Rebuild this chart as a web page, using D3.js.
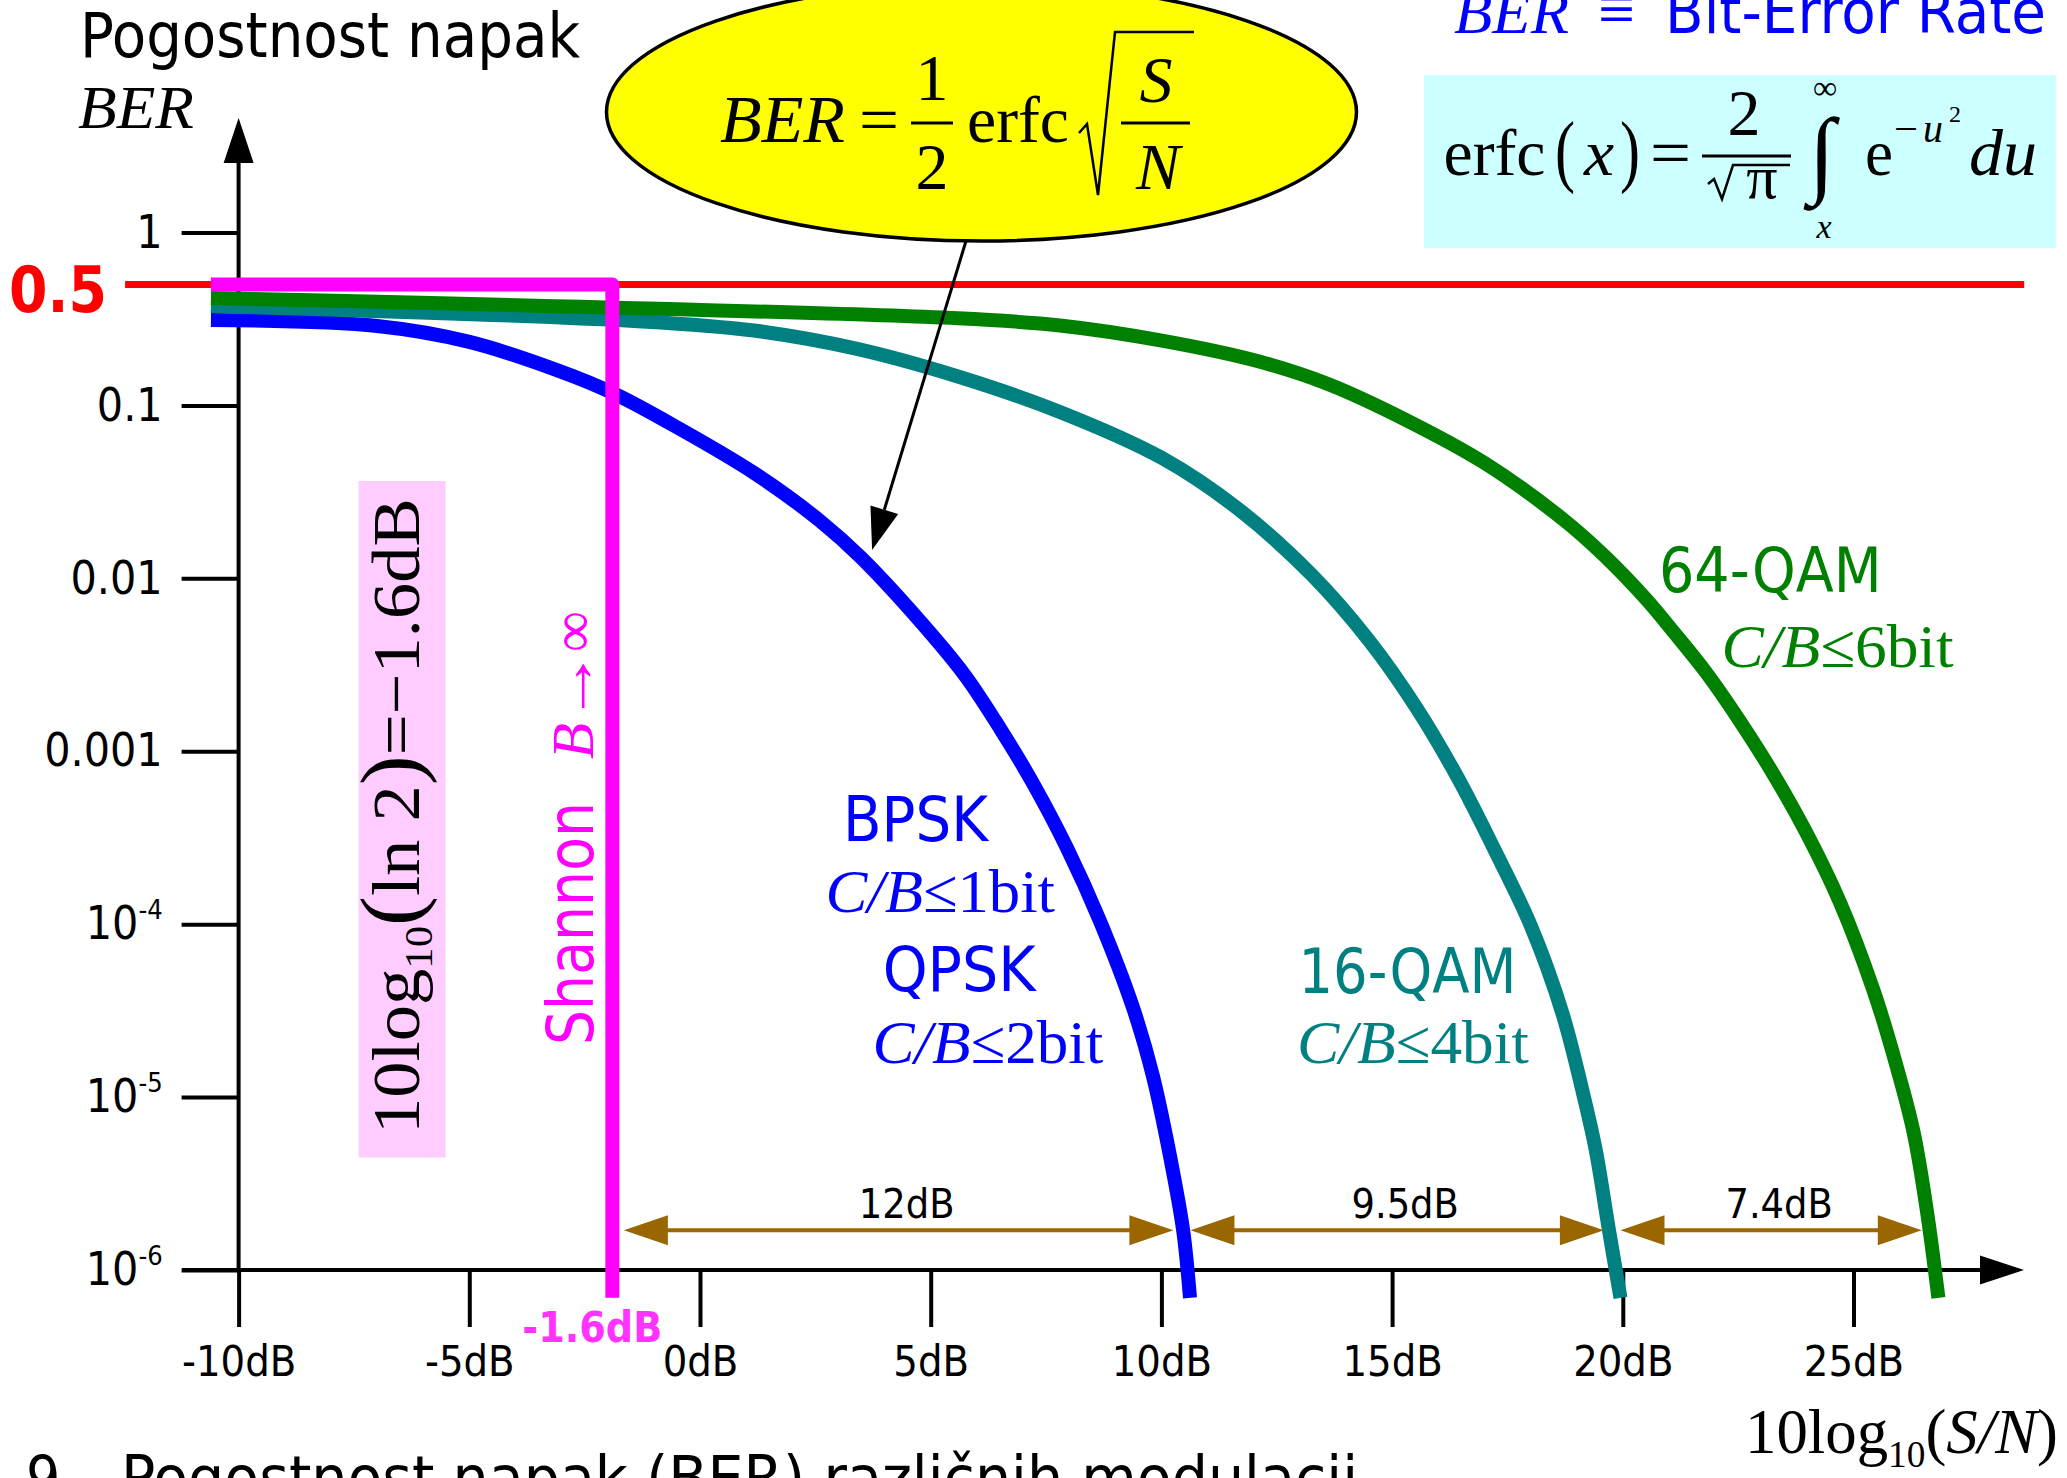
<!DOCTYPE html>
<html>
<head>
<meta charset="utf-8">
<script src="https://cdn.jsdelivr.net/npm/d3@7"></script>
<style>
  html, body { margin: 0; padding: 0; background: #fff; overflow: hidden; }
  svg { display: block; }
  .sans { font-family: "DejaVu Sans Condensed", "DejaVu Sans", sans-serif; font-stretch: condensed; }
  .serif { font-family: "Liberation Serif", "Times New Roman", serif; }
</style>
</head>
<body>
<div id="chart"></div>
<script>
//data
const xTickValues = [-10, -5, 0, 5, 10, 15, 20, 25];
const xTickLabels = ["-10dB", "-5dB", "0dB", "5dB", "10dB", "15dB", "20dB", "25dB"];
const yTickValues = [1, 0.1, 0.01, 0.001, 1e-4, 1e-5, 1e-6];
const yTickLabels = ["1", "0.1", "0.01", "0.001", "10^-4", "10^-5", "10^-6"];

// BPSK / QPSK
const bpskDb = [-10.6, -7.0, -5.0, -3.1, -1.86, -0.49, 1.17, 2.6, 3.5, 5.06, 5.78, 6.5, 7.22, 7.95, 8.67, 9.39, 9.82, 10.26, 10.48, 10.62];
const bpskBer = [0.312, 0.288, 0.233, 0.16, 0.117, 0.0745, 0.0407, 0.0215, 0.0131, 0.0046, 0.00266, 0.00136, 6.5e-4, 2.77e-4, 1.04e-4, 3.26e-5, 1.31e-5, 3.6e-6, 1.63e-6, 6.9e-7];
// 16-QAM
const qam16Db = [-10.6, -1.26, 1.17, 3.38, 5.59, 7.8, 10.01, 11.68, 13.27, 14.52, 15.53, 16.44, 17.23, 18.02, 18.7, 19.15, 19.41, 19.7, 19.95];
const qam16Ber = [0.376, 0.306, 0.271, 0.213, 0.147, 0.0917, 0.0497, 0.025, 0.0104, 0.0043, 0.00178, 6.9e-4, 2.66e-4, 9.6e-5, 3.0e-5, 1.02e-5, 5.0e-6, 1.7e-6, 6.9e-7];
// 64-QAM
const qam64Db = [-10.6, 5.59, 7.8, 10.01, 12.1, 13.61, 15.3, 17.0, 18.7, 19.6, 20.52, 21.1, 21.82, 22.54, 23.26, 23.99, 24.71, 25.43, 25.86, 26.3, 26.59, 26.84];
const qam64Ber = [0.418, 0.319, 0.29, 0.237, 0.18, 0.133, 0.0824, 0.0465, 0.022, 0.0135, 0.0075, 0.0049, 0.00282, 0.00149, 7.4e-4, 3.33e-4, 1.33e-4, 4.17e-5, 1.77e-5, 6.3e-6, 2.2e-6, 6.9e-7];

// reference lines
const halfBer = 0.5;
const halfLineDb = [-12.46, 28.7];
const shannonDb = -1.9;
const shannonStartDb = -10.6;
const shannonEndBer = 6.9e-7;
const shannonLabel = "-1.6dB";

// dB gaps between the curves
const gapFrom = [-1.65, 10.63, 19.95];
const gapTo = [10.26, 19.59, 26.48];
const gapLabels = ["12dB", "9.5dB", "7.4dB"];
const gapBer = 1.7e-6;

// callout points at the BPSK curve
const pointerDb = 3.73;
const pointerBer = 0.0146;

//size
const width = 2067, height = 1478;
const svg = d3.select("#chart").append("svg").attr("width", width).attr("height", height);

//scales
const x = d3.scaleLinear().domain([-10, 25]).range([238.6, 1853.5]);
const y = d3.scaleLog().domain([1e-6, 1]).range([1270, 232.5]);

const sansFont = '"DejaVu Sans Condensed", "DejaVu Sans", sans-serif';

//helper for fitted text
function label(g, cls, tx, ty, str, size, len, fill, anchor) {
  const t = g.append("text").attr("class", cls).attr("x", tx).attr("y", ty)
    .attr("font-size", size).attr("fill", fill || "#000").text(str);
  if (len) t.attr("textLength", len).attr("lengthAdjust", "spacingAndGlyphs");
  if (anchor) t.attr("text-anchor", anchor);
  return t;
}
function vlabel(tx, ty, str, size, len, fill, cls) {
  const t = svg.append("text").attr("class", cls)
    .attr("transform", `translate(${tx},${ty}) rotate(-90)`)
    .attr("font-size", size).attr("fill", fill).text(str);
  if (len) t.attr("textLength", len).attr("lengthAdjust", "spacingAndGlyphs");
  return t;
}

//pink box with Shannon limit formula
svg.append("rect").attr("x", 358.6).attr("y", 481).attr("width", 87).attr("height", 676.5).attr("fill", "#ffccff");
const lnText = svg.append("text").attr("class", "serif")
  .attr("transform", "translate(419,1134) rotate(-90)")
  .attr("font-size", 68).attr("textLength", 636).attr("lengthAdjust", "spacingAndGlyphs");
lnText.append("tspan").text("10log");
lnText.append("tspan").attr("font-size", 40).attr("dy", 13).text("10");
lnText.append("tspan").attr("dy", -13).attr("font-size", 84).text("(");
lnText.append("tspan").text("ln 2");
lnText.append("tspan").attr("font-size", 84).text(")");
lnText.append("tspan").text("=\u22121.6dB");

//red 0.5 line
svg.append("line")
  .attr("x1", x(halfLineDb[0])).attr("x2", x(halfLineDb[1]))
  .attr("y1", y(halfBer)).attr("y2", y(halfBer))
  .attr("stroke", "#ff0000").attr("stroke-width", 7);
svg.append("text").attr("x", 107).attr("y", y(halfBer) + 27)
  .attr("text-anchor", "end").attr("font-family", sansFont).attr("font-weight", "bold")
  .attr("font-size", 64).attr("fill", "#ff0000")
  .attr("textLength", 98).attr("lengthAdjust", "spacingAndGlyphs").text("0.5");

//axes
const yAxis = d3.axisLeft(y).tickValues(yTickValues).tickSize(57).tickPadding(19).tickFormat(() => "");
const gy = svg.append("g").attr("transform", `translate(${x(-10)},0)`).call(yAxis);
gy.select(".domain").remove();
gy.selectAll(".tick line").attr("stroke", "#000").attr("stroke-width", 4);
gy.selectAll(".tick text")
  .attr("font-family", sansFont).attr("font-size", 46).attr("fill", "#000")
  .each(function (d, i) {
    const parts = yTickLabels[i].split("^");
    const t = d3.select(this);
    t.append("tspan").text(parts[0]);
    if (parts[1]) t.append("tspan").attr("font-size", 27).attr("dy", -20).text(parts[1]);
  });

const xAxis = d3.axisBottom(x).tickValues(xTickValues).tickSize(57).tickPadding(18)
  .tickFormat((d, i) => xTickLabels[i]);
const gx = svg.append("g").attr("transform", `translate(0,${y(1e-6)})`).call(xAxis);
gx.select(".domain").remove();
gx.selectAll(".tick line").attr("stroke", "#000").attr("stroke-width", 4);
gx.selectAll(".tick text").attr("font-family", sansFont).attr("font-size", 43).attr("fill", "#000");

const x0 = x(-10), yBase = y(1e-6);
svg.append("line").attr("x1", x0).attr("x2", x0).attr("y1", yBase).attr("y2", 160)
  .attr("stroke", "#000").attr("stroke-width", 4);
svg.append("polygon").attr("points", `${x0},118 ${x0 - 15},163 ${x0 + 15},163`).attr("fill", "#000");
svg.append("line").attr("x1", 182).attr("x2", 1983).attr("y1", yBase).attr("y2", yBase)
  .attr("stroke", "#000").attr("stroke-width", 4);
svg.append("polygon").attr("points", `2024,${yBase} 1980,${yBase - 14.5} 1980,${yBase + 14.5}`).attr("fill", "#000");

//curves
const lineGen = d3.line().x((d) => x(d[0])).y((d) => y(d[1])).curve(d3.curveCatmullRom.alpha(0.5));
const series = [
  { db: bpskDb, ber: bpskBer, color: "#0000ff" },
  { db: qam16Db, ber: qam16Ber, color: "#008080" },
  { db: qam64Db, ber: qam64Ber, color: "#008000" },
];
svg.selectAll("path.curve").data(series).enter().append("path")
  .attr("class", "curve")
  .attr("fill", "none")
  .attr("stroke", (d) => d.color)
  .attr("stroke-width", 14)
  .attr("d", (d) => lineGen(d.db.map((v, i) => [v, d.ber[i]])));

//Shannon limit
svg.append("path")
  .attr("fill", "none").attr("stroke", "#ff00ff").attr("stroke-width", 14)
  .attr("stroke-linejoin", "round")
  .attr("d", d3.line()([
    [x(shannonStartDb), y(halfBer)],
    [x(shannonDb), y(halfBer)],
    [x(shannonDb), y(shannonEndBer)],
  ]));
svg.append("text").attr("x", x(shannonDb) - 20).attr("y", 1342)
  .attr("text-anchor", "middle").attr("font-family", sansFont).attr("font-weight", "bold")
  .attr("font-size", 42).attr("fill", "#ff33ff")
  .attr("textLength", 140).attr("lengthAdjust", "spacingAndGlyphs").text(shannonLabel);
vlabel(593, 1045, "Shannon", 64, 243, "#ff00ff", "sans");
vlabel(593, 759, "B", 60, 36, "#ff00ff", "serif").attr("font-style", "italic");
vlabel(593, 723, "\u2192", 60, 74, "#ff00ff", "serif");
vlabel(593, 652, "\u221e", 60, 41, "#ff00ff", "serif");

//dB gap arrows
const brown = "#996600";
gapFrom.forEach((f, i) => {
  const x1 = x(f), x2 = x(gapTo[i]), yy = y(gapBer);
  svg.append("line").attr("x1", x1 + 40).attr("x2", x2 - 40).attr("y1", yy).attr("y2", yy)
    .attr("stroke", brown).attr("stroke-width", 4);
  svg.append("polygon").attr("points", `${x1},${yy} ${x1 + 44},${yy - 15} ${x1 + 44},${yy + 15}`).attr("fill", brown);
  svg.append("polygon").attr("points", `${x2},${yy} ${x2 - 44},${yy - 15} ${x2 - 44},${yy + 15}`).attr("fill", brown);
  svg.append("text").attr("x", (x1 + x2) / 2 + 8).attr("y", yy - 12)
    .attr("text-anchor", "middle").attr("font-family", sansFont).attr("font-size", 41)
    .attr("fill", "#000").text(gapLabels[i]);
});

//curve labels
function cbLabel(tx, ty, bits, color, len) {
  const t = svg.append("text").attr("class", "serif").attr("x", tx).attr("y", ty)
    .attr("font-size", 62).attr("fill", color)
    .attr("textLength", len).attr("lengthAdjust", "spacingAndGlyphs");
  t.append("tspan").attr("font-style", "italic").text("C/B");
  t.append("tspan").text("\u2264" + bits + "bit");
}
label(svg, "sans", 843, 841, "BPSK", 62, 145, "#0000ff");
cbLabel(825.5, 912, "1", "#0000ff", 229.5);
label(svg, "sans", 882.7, 991, "QPSK", 62, 153, "#0000ff");
cbLabel(872.4, 1063, "2", "#0000ff", 231);
label(svg, "sans", 1298.5, 993, "16-QAM", 62, 218, "#008080");
cbLabel(1297, 1063, "4", "#008080", 232);
label(svg, "sans", 1659, 592, "64-QAM", 62, 222.6, "#008000");
cbLabel(1721.6, 667, "6", "#008000", 232);

//titles
label(svg, "sans", 80, 57, "Pogostnost napak", 62, 500);
label(svg, "serif", 78, 128, "BER", 62, 116).attr("font-style", "italic");
const xTitle = svg.append("text").attr("class", "serif").attr("x", 1745).attr("y", 1453)
  .attr("font-size", 64).attr("textLength", 313).attr("lengthAdjust", "spacingAndGlyphs");
xTitle.append("tspan").text("10log");
xTitle.append("tspan").attr("font-size", 38).attr("dy", 14).text("10");
xTitle.append("tspan").attr("dy", -14).text("(");
xTitle.append("tspan").attr("font-style", "italic").text("S/N");
xTitle.append("tspan").text(")");
label(svg, "sans", 26, 1499, "9.", 60);
label(svg, "sans", 121, 1499, "Pogostnost napak (BER) različnih modulacij", 60, 1237);

//BER definition
label(svg, "serif", 1454, 33, "BER", 62, 115, "#0000ff").attr("font-style", "italic");
label(svg, "serif", 1598, 33, "\u2261", 72, 37, "#0000ff");
label(svg, "sans", 1665, 33, "Bit-Error Rate", 60, 381, "#0000ff");

//erfc box
svg.append("rect").attr("x", 1424).attr("y", 75).attr("width", 632).attr("height", 173).attr("fill", "#ccffff");
label(svg, "serif", 1443.5, 175, "erfc", 66, 102);
label(svg, "serif", 1555, 177, "(", 80, 20);
label(svg, "serif", 1584, 175, "x", 66, 30).attr("font-style", "italic");
label(svg, "serif", 1620, 177, ")", 80, 20);
label(svg, "serif", 1650, 175, "=", 66, 41);
svg.append("line").attr("x1", 1702).attr("x2", 1791).attr("y1", 156).attr("y2", 156).attr("stroke", "#000").attr("stroke-width", 3);
label(svg, "serif", 1744, 135, "2", 66, null, "#000", "middle");
svg.append("path").attr("fill", "none").attr("stroke", "#000").attr("stroke-width", 2.5)
  .attr("d", "M1708,184 L1714,179 L1722,199 L1733,165 L1790,165");
label(svg, "serif", 1762, 198, "\u03c0", 62, null, "#000", "middle");
label(svg, "serif", 1822, 185, "\u222b", 96, null, "#000", "middle");
label(svg, "serif", 1825, 99, "\u221e", 34, null, "#000", "middle");
label(svg, "serif", 1824, 238, "x", 34, null, "#000", "middle").attr("font-style", "italic");
label(svg, "serif", 1865, 175, "e", 66, 28);
label(svg, "serif", 1894, 142, "\u2212", 40, 24);
label(svg, "serif", 1923, 142, "u", 40, 20).attr("font-style", "italic");
label(svg, "serif", 1949, 122, "2", 24);
label(svg, "serif", 1969, 175, "du", 66, 68).attr("font-style", "italic");

//BER callout
svg.append("ellipse").attr("cx", 981.5).attr("cy", 112).attr("rx", 375).attr("ry", 129)
  .attr("fill", "#ffff00").attr("stroke", "#000").attr("stroke-width", 3.5);
label(svg, "serif", 720, 142, "BER", 68, 125).attr("font-style", "italic");
label(svg, "serif", 859, 142, "=", 66, 40);
svg.append("line").attr("x1", 911).attr("x2", 953).attr("y1", 123).attr("y2", 123).attr("stroke", "#000").attr("stroke-width", 3);
label(svg, "serif", 932, 100, "1", 66, null, "#000", "middle");
label(svg, "serif", 932, 189, "2", 66, null, "#000", "middle");
label(svg, "serif", 967, 142, "erfc", 66, 102);
svg.append("path").attr("fill", "none").attr("stroke", "#000").attr("stroke-width", 2.5)
  .attr("d", "M1079,133 L1087,124 L1098,195 L1115,32 L1194,32");
svg.append("line").attr("x1", 1121).attr("x2", 1190).attr("y1", 123).attr("y2", 123).attr("stroke", "#000").attr("stroke-width", 3);
label(svg, "serif", 1156, 102, "S", 66, null, "#000", "middle").attr("font-style", "italic");
label(svg, "serif", 1158, 189, "N", 66, null, "#000", "middle").attr("font-style", "italic");

//pointer arrow
const start = [966, 241];
const tip = [x(pointerDb), y(pointerBer)];
const dxp = tip[0] - start[0], dyp = tip[1] - start[1];
const lenp = Math.hypot(dxp, dyp);
const ux = dxp / lenp, uy = dyp / lenp;
const base = [tip[0] - ux * 42, tip[1] - uy * 42];
svg.append("line").attr("x1", start[0]).attr("y1", start[1]).attr("x2", base[0]).attr("y2", base[1])
  .attr("stroke", "#000").attr("stroke-width", 3);
svg.append("polygon").attr("fill", "#000").attr("points", [
  tip,
  [base[0] - uy * 14.5, base[1] + ux * 14.5],
  [base[0] + uy * 14.5, base[1] - ux * 14.5],
].map((p) => p.join(",")).join(" "));
</script>
</body>
</html>
